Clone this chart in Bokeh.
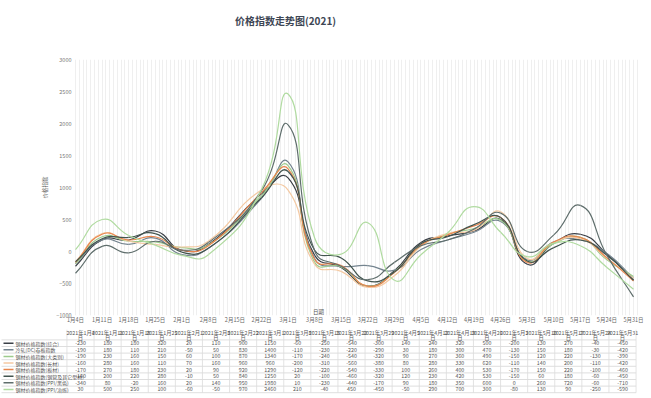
import numpy as np
import pandas as pd
from bokeh.plotting import figure
from bokeh.models import Range1d, FixedTicker, Label, ColumnDataSource
from bokeh.layouts import column
from bokeh.embed import file_html
from bokeh.resources import INLINE
from bokeh.core.properties import value

# ---------------- data ----------------
title_text = "价格指数走势图(2021)"
dates = ["2021-01-04", "2021-01-11", "2021-01-18", "2021-01-25", "2021-02-01", "2021-02-08",
         "2021-02-22", "2021-03-01", "2021-03-08", "2021-03-15", "2021-03-22", "2021-03-29",
         "2021-04-05", "2021-04-12", "2021-04-19", "2021-04-26", "2021-05-03", "2021-05-10",
         "2021-05-17", "2021-05-24", "2021-05-31"]
tick_dates = ["2021-01-04", "2021-01-11", "2021-01-18", "2021-01-25", "2021-02-01", "2021-02-08",
              "2021-02-15", "2021-02-22", "2021-03-01", "2021-03-08", "2021-03-15", "2021-03-22",
              "2021-03-29", "2021-04-05", "2021-04-12", "2021-04-19", "2021-04-26", "2021-05-03",
              "2021-05-10", "2021-05-17", "2021-05-24", "2021-05-31"]
tick_labels = ["1月4日", "1月11日", "1月18日", "1月25日", "2月1日", "2月8日", "2月15日", "2月22日",
               "3月1日", "3月8日", "3月15日", "3月22日", "3月29日", "4月5日", "4月12日", "4月19日",
               "4月26日", "5月3日", "5月10日", "5月17日", "5月24日", "5月31日"]
header_top = ["2021年1月4", "2021年1月11", "2021年1月18", "2021年1月25", "2021年2月1", "2021年2月8",
              "2021年2月22", "2021年3月1", "2021年3月8", "2021年3月15", "2021年3月22", "2021年3月29",
              "2021年4月5", "2021年4月12", "2021年4月19", "2021年4月26", "2021年5月3", "2021年5月10",
              "2021年5月17", "2021年5月24", "2021年5月31"]

names = ["钢材价格指数(综合)", "冷轧(DC)卷板指数", "钢材价格指数(大类别)", "钢材价格指数(长材)",
         "钢材价格指数(板材)", "钢材价格指数(钢管及其它型材)", "钢材价格指数(PPI/黑色)",
         "钢材价格指数(PPI/冶炼)"]

s1 = [-230, 180, 180, 320, 20, 110, 900, 1150, -60, -250, -540, -300, 140, 240, 320, 500, -200, 130, 270, -40, -450]
s2 = [-190, 180, 110, 210, -50, 50, 830, 1400, -110, -230, -220, -290, 30, 180, 300, 470, -130, 150, 180, -30, -420]
s3 = [-190, 230, 160, 150, 60, 100, 870, 1340, -170, -240, -540, -320, 90, 270, 360, 490, -150, 120, 220, -130, -390]
s4 = [-160, 280, 160, 110, 70, 160, 960, 960, -200, -310, -560, -380, 80, 280, 330, 620, -110, 140, 200, -110, -420]
s5 = [-170, 270, 180, 230, 20, 90, 920, 1290, -120, -220, -540, -330, 100, 260, 400, 530, -170, 150, 220, -100, -460]
s6 = [-160, 200, 220, 280, -10, 50, 840, 1250, 20, -100, -460, -320, 120, 230, 420, 530, -150, 60, 180, -60, -450]
s7 = [-340, 80, -20, 160, 20, 140, 950, 1980, 10, -230, -440, -170, 90, 180, 350, 600, 0, 260, 720, -60, -710]
s8 = [30, 500, 250, 100, -60, -50, 970, 2460, 210, -40, 450, -450, -50, 290, 700, 300, -80, 130, 90, -250, -590]
series = [s1, s2, s3, s4, s5, s6, s7, s8]

colors = ["#3a3f46", "#74848f", "#9dcb8c", "#f4c9a2", "#e8864e", "#42544e", "#5f6e6c", "#b0dba0"]

FONT = "Noto Sans CJK SC"
DAY = 86400000.0
W = 651

# ---------------- title strip ----------------
TH = 40
tt = figure(width=W, height=TH, output_backend="svg", toolbar_location=None,
            x_range=Range1d(0, W), y_range=Range1d(TH, 0),
            min_border=0, min_border_left=0, min_border_right=0, min_border_top=0,
            min_border_bottom=0, frame_align=False)
tt.axis.visible = False
tt.grid.visible = False
tt.outline_line_color = None
tt.text(x=[285], y=[20], text=[title_text], text_font=value(FONT), text_font_size="10px",
        text_font_style="bold", text_color="#3d4654", text_align="center", text_baseline="middle")

# ---------------- chart ----------------
xms = (pd.to_datetime(dates).astype("int64") // 10**6).to_numpy().astype(float)
tms = (pd.to_datetime(tick_dates).astype("int64") // 10**6).to_numpy().astype(float)

x0 = tms[0] - 0.53 * DAY
x1 = tms[-1] + 1.84 * DAY
FL, FR, FT, FB = 73.0, 640.0, 59.0, 315.0
kx = (FR - FL) / (x1 - x0)
ky = (FB - FT) / 4000.0
CH_BOTTOM = 329

p = figure(width=W, height=CH_BOTTOM - TH, output_backend="svg", toolbar_location=None,
           x_range=Range1d(x0, x1), y_range=Range1d(-1000, 3000),
           min_border_left=int(FL), min_border_right=int(W - FR), min_border_top=int(FT - TH),
           min_border_bottom=int(CH_BOTTOM - FB), frame_align=False)
p.outline_line_color = None
p.background_fill_color = "white"
p.border_fill_color = "white"


def smooth_bezier(xd, yd, smooth=0.5):
    X = np.asarray(xd) * kx
    Y = np.asarray(yd, dtype=float) * ky
    n = len(X)
    outx, outy, inx, iny = np.zeros(n), np.zeros(n), np.zeros(n), np.zeros(n)
    for i in range(n):
        a = max(i - 1, 0)
        b = min(i + 1, n - 1)
        vx, vy = X[b] - X[a], Y[b] - Y[a]
        d0 = np.hypot(X[i] - X[a], Y[i] - Y[a])
        d1 = np.hypot(X[b] - X[i], Y[b] - Y[i])
        s = d0 + d1
        r = d1 / s if s else 0.5
        outx[i], outy[i] = X[i] + vx * smooth * r, Y[i] + vy * smooth * r
        inx[i], iny[i] = X[i] - vx * smooth * (1 - r), Y[i] - vy * smooth * (1 - r)
    return dict(x0=xd[:-1], y0=list(yd[:-1]), x1=xd[1:], y1=list(yd[1:]),
                cx0=outx[:-1] / kx, cy0=outy[:-1] / ky,
                cx1=inx[1:] / kx, cy1=iny[1:] / ky)


for s, c in zip(series, colors):
    src = ColumnDataSource(smooth_bezier(xms, s))
    p.bezier(x0="x0", y0="y0", x1="x1", y1="y1", cx0="cx0", cy0="cy0", cx1="cx1", cy1="cy1",
             source=src, line_color=c, line_width=1.2)

for ax in (p.xaxis, p.yaxis):
    ax.major_tick_line_color = None
    ax.minor_tick_line_color = None
    ax.major_tick_out = 0
    ax.major_tick_in = 0
    ax.minor_tick_out = 0
    ax.minor_tick_in = 0
    ax.axis_line_color = None
    ax.major_label_text_font = FONT
    ax.major_label_text_font_size = "5.5px"

p.xaxis.ticker = FixedTicker(ticks=list(tms))
p.xaxis.major_label_overrides = {float(t): l for t, l in zip(tms, tick_labels)}
p.xaxis.major_label_text_color = "#666666"
p.xaxis.major_label_standoff = 0

p.yaxis.ticker = FixedTicker(ticks=[-1000, -500, 0, 500, 1000, 1500, 2000, 2500, 3000])
p.yaxis.major_label_text_color = "#777777"
p.yaxis.major_label_standoff = 2
p.yaxis.axis_label = "价格指数"
p.yaxis.axis_label_text_font = FONT
p.yaxis.axis_label_text_font_size = "5.5px"
p.yaxis.axis_label_text_font_style = "normal"
p.yaxis.axis_label_text_color = "#666666"
p.yaxis.axis_label_standoff = 4

days = np.arange(tms[0], x1, DAY)
p.xgrid.ticker = FixedTicker(ticks=list(days))
p.xgrid.grid_line_color = "#efefef"
p.xgrid.grid_line_width = 1
p.ygrid.grid_line_color = None

p.add_layout(Label(x=x0 + (318 - FL) / kx, y=3000 - (311 - FT) / ky, text="日期", text_font=FONT,
                   text_font_size="5.5px", text_color="#555555", text_align="center",
                   text_baseline="middle"))

# ---------------- table ----------------
ncol = len(dates)
CW = 27.1
C0 = 80.0
RH = 6.6
R0 = 342.7
TOP = float(CH_BOTTOM)
BOT = 398.0
cx_start = (0 - C0) / CW
cx_end = (W - C0) / CW
r_top = (TOP - R0) / RH
r_bot = (BOT - R0) / RH

t = figure(width=W, height=int(BOT - TOP), output_backend="svg", toolbar_location=None,
           x_range=Range1d(cx_start, cx_end), y_range=Range1d(r_bot, r_top),
           min_border=0, min_border_left=0, min_border_right=0, min_border_top=0,
           min_border_bottom=0, frame_align=False)
t.axis.visible = False
t.grid.visible = False
t.outline_line_color = None
t.border_fill_color = "white"

cols = list(range(ncol))
left_edge = (1 - C0) / CW
right_edge = ncol - 0.5
nrow = len(series)

hl = [-0.5 + k for k in range(0, nrow + 1)]
t.segment(x0=[left_edge] * len(hl), x1=[right_edge] * len(hl), y0=hl, y1=hl,
          line_color="#d6d6d6", line_width=0.8)
vl = [-0.5 + k for k in range(0, ncol + 1)]
t.segment(x0=vl, x1=vl, y0=[r_top] * len(vl), y1=[nrow - 0.5] * len(vl),
          line_color="#dcdcdc", line_width=0.8)

t.text(x=cols, y=[(332 - R0) / RH] * ncol, text=header_top, text_font=value(FONT),
       text_font_size="5.3px", text_color="#555555", text_align="center", text_baseline="middle")
t.text(x=cols, y=[(337 - R0) / RH] * ncol, text=["日"] * ncol, text_font=value(FONT),
       text_font_size="5.3px", text_color="#555555", text_align="center", text_baseline="middle")

vx, vy, vt = [], [], []
for r, s in enumerate(series):
    for ci, v in enumerate(s):
        vx.append(ci)
        vy.append(r)
        vt.append(str(v))
t.text(x=vx, y=vy, text=vt, text_font=value(FONT), text_font_size="5.3px",
       text_color="#555555", text_align="center", text_baseline="middle")

rows = list(range(nrow))
t.segment(x0=[(3 - C0) / CW] * nrow, x1=[(13 - C0) / CW] * nrow, y0=rows, y1=rows,
          line_color=colors, line_width=1.5)
t.text(x=[(15 - C0) / CW] * nrow, y=rows, text=names, text_font=value(FONT),
       text_font_size="5px", text_color="#555555", text_align="left", text_baseline="middle")

layout = column(tt, p, t, spacing=0)
open("out.html", "w").write(file_html(layout, INLINE))
